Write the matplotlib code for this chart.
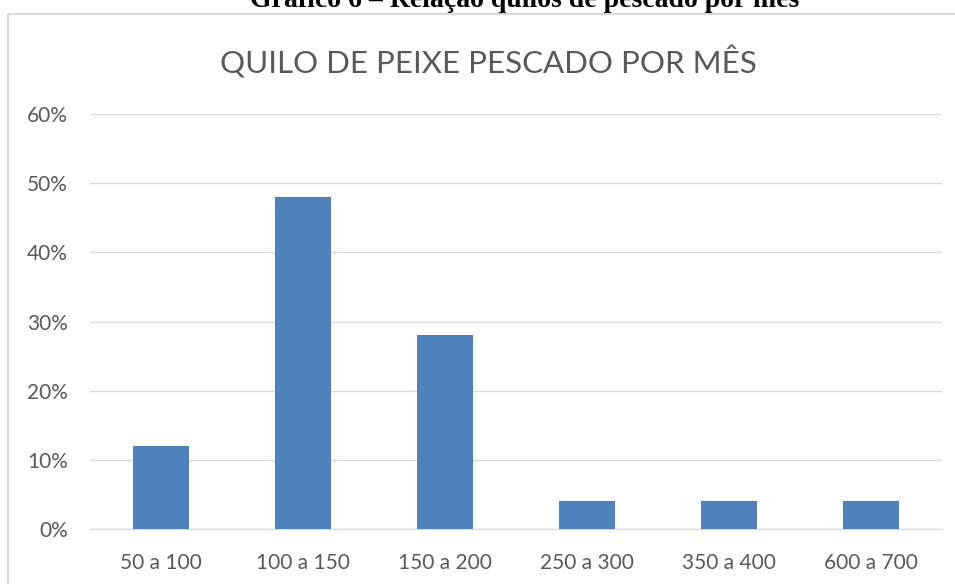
import matplotlib.pyplot as plt
import numpy as np
from matplotlib.patches import Rectangle

faixas = ["50 a 100", "100 a 150", "150 a 200", "250 a 300", "350 a 400", "600 a 700"]
percentuais = [0.12, 0.48, 0.28, 0.04, 0.04, 0.04]
yticks = [0.0, 0.1, 0.2, 0.3, 0.4, 0.5, 0.6]

plt.rcParams['font.family'] = ['Lato', 'DejaVu Sans']

W, H = 955, 584
fig = plt.figure(figsize=(W / 100, H / 100), dpi=100)

# moldura do grafico
fig.patches.append(Rectangle((8 / W, -0.05), 1.0, 1 - 14 / H + 0.05,
                             transform=fig.transFigure, fill=False,
                             edgecolor="#d9d9d9", linewidth=1.5))

# legenda da figura, cortada no topo como no original
fig.text(525 / W, 1 - 7 / H, "Gráfico 6 – Relação quilos de pescado por mês",
         ha="center", va="baseline", fontsize=20, fontweight="bold",
         family="Liberation Serif")

ax = fig.add_axes([90 / W, 1 - 529 / H, (942 - 90) / W, (529 - 114) / H])
x = np.arange(len(faixas))
ax.bar(x, percentuais, width=0.4, color="#4f81bd", zorder=3)
ax.set_xlim(-0.5, len(faixas) - 0.5)
ax.set_ylim(0, 0.6)
ax.set_yticks(yticks)
ax.set_yticklabels([f"{int(round(v * 100))}%" for v in yticks])
ax.set_xticks(x)
ax.set_xticklabels(faixas)
ax.yaxis.grid(True, color="#d9d9d9", linewidth=1)
for s in ["top", "right", "left"]:
    ax.spines[s].set_visible(False)
ax.spines["bottom"].set_color("#d9d9d9")
ax.tick_params(length=0, colors="#595959", labelsize=15)
ax.tick_params(axis="x", pad=17)
ax.tick_params(axis="y", pad=16)

fig.text(488 / W, 1 - 62 / H, "QUILO DE PEIXE PESCADO POR MÊS", ha="center",
         va="center", fontsize=22.5, color="#595959")

fig.savefig("out.png", dpi=100)
